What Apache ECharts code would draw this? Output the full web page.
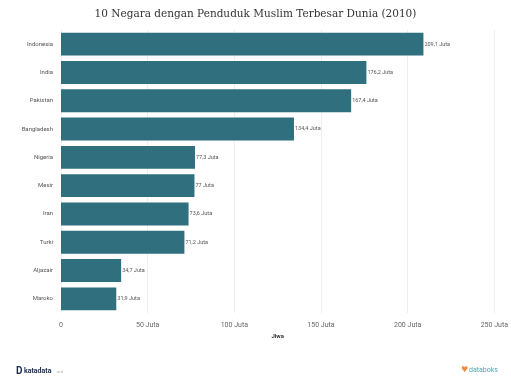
<!DOCTYPE html>
<html>
<head>
<meta charset="utf-8">
<script src="https://cdn.jsdelivr.net/npm/echarts@6/dist/echarts.min.js"></script>
<style>
html,body{margin:0;padding:0;background:#fff;}
#chart{width:511px;height:381px;}
</style>
</head>
<body>
<div id="chart"></div>
<script>
const categories = ["Indonesia","India","Pakistan","Bangladesh","Nigeria","Mesir","Iran","Turki","Aljazair","Maroko"];
const values = [209.1,176.2,167.4,134.4,77.3,77,73.6,71.2,34.7,31.9];
const xTicks = [0,50,100,150,200,250];

const chart = echarts.init(document.getElementById('chart'));
const fmt = v => String(v).replace('.', ',') + ' Juta';
chart.setOption({
  animation:false,
  backgroundColor:'#fff',
  title:{
    text:'10 Negara dengan Penduduk Muslim Terbesar Dunia (2010)',
    left:'center', top:4,
    textStyle:{fontFamily:'DejaVu Serif', fontSize:10.5, fontWeight:'normal', color:'#333'}
  },
  grid:{left:61, right:11, top:30, bottom:68, containLabel:false},
  xAxis:{
    type:'value', min:0, max:250, interval:50,
    name:'Jiwa', nameLocation:'middle', nameGap:17,
    nameTextStyle:{fontSize:6, fontWeight:'bold', color:'#333', fontFamily:'Roboto'},
    axisLine:{show:false}, axisTick:{show:false},
    splitLine:{lineStyle:{color:'#eeeeee', width:1}},
    axisLabel:{fontSize:7, color:'#666', fontFamily:'Roboto', margin:9,
      formatter: v => xTicks.indexOf(v) === 0 ? '0' : v + ' Juta'}
  },
  yAxis:{
    type:'category', data:categories, inverse:true,
    axisLine:{show:false}, axisTick:{show:false}, splitLine:{show:false},
    axisLabel:{fontSize:6, color:'#555', fontFamily:'Roboto', margin:8}
  },
  series:[{
    type:'bar', data:values, barCategoryGap:'19%',
    itemStyle:{color:'#2f6f7e'},
    label:{show:true, position:'right', distance:1, fontSize:5.5, color:'#555', fontFamily:'Roboto',
      formatter: p => fmt(p.value)}
  }],
  graphic:[
    {type:'text', left:16, top:366, style:{text:'D', font:'bold 10px Roboto', fill:'#1d2b4f'}},
    {type:'text', left:24, top:368, style:{text:'katadata', font:'bold 7px Roboto', fill:'#1d2b4f'}},
    {type:'text', left:56, top:371, style:{text:'.co.id', font:'3px Roboto', fill:'#aaa'}},
    {type:'text', left:461, top:366, style:{text:'♥', font:'8px DejaVu Sans', fill:'#f08a3c'}},
    {type:'text', left:469, top:367, style:{text:'databoks', font:'7px Roboto', fill:'#4fa3b3'}}
  ]
});
</script>
</body>
</html>
